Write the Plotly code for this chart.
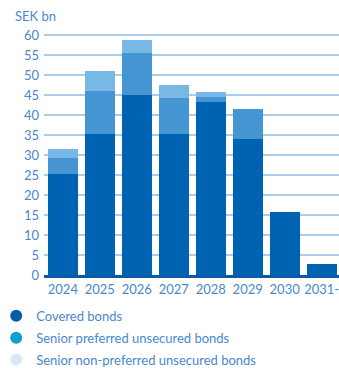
import plotly.graph_objects as go

years = ["2024", "2025", "2026", "2027", "2028", "2029", "2030", "2031-"]
covered = [25.2, 35.2, 45.0, 35.2, 43.3, 34.0, 15.7, 2.8]
senior_pref = [4.0, 10.7, 10.5, 9.0, 1.3, 7.6, 0, 0]
senior_nonpref = [2.2, 5.0, 3.3, 3.4, 1.2, 0, 0, 0]

series_names = ["Covered bonds", "Senior preferred unsecured bonds",
                "Senior non-preferred unsecured bonds"]
bar_colors = ["#0063b1", "#4495d2", "#78b8e6"]
legend_colors = ["#0b5ba9", "#0aa0d3", "#d6e9f8"]

TEXT = "#4a88cc"
FONT = "Lato"

fig = go.Figure()
for vals, col in zip([covered, senior_pref, senior_nonpref], bar_colors):
    fig.add_trace(go.Bar(x=years, y=vals, marker=dict(color=col, line=dict(width=0)),
                         showlegend=False, hoverinfo="skip"))
for i, (name, col) in enumerate(zip(series_names, legend_colors)):
    fig.add_trace(go.Scatter(x=[None], y=[None], mode="markers", name=name,
                             legendgroup=f"g{i}",
                             marker=dict(color=col, size=12, symbol="circle")))

fig.update_layout(
    width=339, height=368,
    margin=dict(l=44, r=0, t=31, b=93, autoexpand=False),
    barmode="stack", bargap=0.19,
    plot_bgcolor="white", paper_bgcolor="white",
    font=dict(family=FONT, size=13, color=TEXT),
    xaxis=dict(type="category", range=[-0.51, 7.47], showgrid=False,
               showline=True, linecolor="#0a5aa8", linewidth=3,
               ticks="", tickfont=dict(size=13, color=TEXT), fixedrange=True),
    yaxis=dict(range=[0, 61], tickvals=list(range(0, 61, 5)), showgrid=True,
               gridcolor="#a9cceb", gridwidth=1.5, zeroline=False, ticks="",
               ticklabelstandoff=4, tickfont=dict(size=13, color=TEXT)),
    legend=dict(orientation="v", x=-0.162, xanchor="left", y=-0.106, yanchor="top",
                font=dict(size=13, color=TEXT), itemsizing="constant",
                traceorder="grouped", tracegroupgap=2, bgcolor="rgba(0,0,0,0)"),
    annotations=[dict(text="SEK bn", xref="paper", yref="paper", x=-0.105, y=1.061,
                      xanchor="left", yanchor="middle", showarrow=False,
                      font=dict(size=13, color=TEXT))],
)

fig.write_html("out.html", config={"displayModeBar": False},
               post_script="document.body.style.margin='0';")
